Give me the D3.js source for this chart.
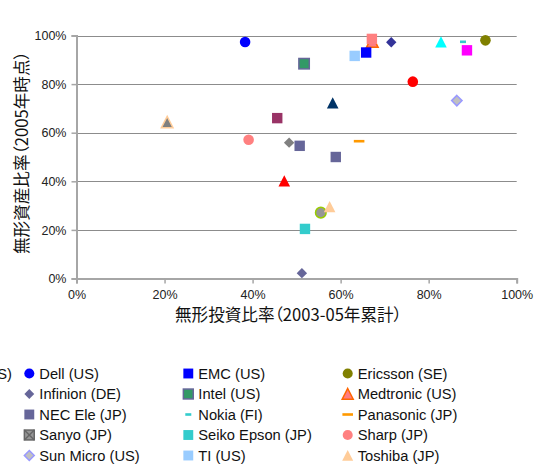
<!DOCTYPE html>
<html>
<head>
<meta charset="utf-8">
<script src="https://cdn.jsdelivr.net/npm/d3@7"></script>
<style>
  html, body { margin: 0; padding: 0; background: #fff; }
  svg { display: block; }
  .tick text { font-family: "Liberation Sans", Arial, sans-serif; font-size: 12.5px; fill: #222; }
  .legend text { font-family: "Liberation Sans", Arial, sans-serif; font-size: 14.7px; fill: #111; }
  .title { font-family: "Noto Sans CJK JP", sans-serif; font-size: 16.6px; fill: #111; font-feature-settings: "palt" 1; }
</style>
</head>
<body>
<svg id="chart" width="537" height="468"></svg>
<script>
// ---- data ----
const xTicks = [0, 0.2, 0.4, 0.6, 0.8, 1.0];
const yTicks = [0, 0.2, 0.4, 0.6, 0.8, 1.0];
const xTitle = "無形投資比率（2003-05年累計）";
const yTitle = "無形資産比率（2005年時点）";

// legend series (visible part of the legend, row-major order)
const seriesNames = [
  "Dell (US)", "EMC (US)", "Ericsson (SE)",
  "Infinion (DE)", "Intel (US)", "Medtronic (US)",
  "NEC Ele (JP)", "Nokia (FI)", "Panasonic (JP)",
  "Sanyo (JP)", "Seiko Epson (JP)", "Sharp (JP)",
  "Sun Micro (US)", "TI (US)", "Toshiba (JP)"
];
const seriesShapes = [
  "circle", "square", "circle",
  "diamond", "square", "triangle",
  "square", "dash", "dash",
  "xsquare", "square", "circle",
  "diamond", "square", "triangle"
];
const seriesFill = [
  "#0000ff", "#0000ff", "#808000",
  "#666699", "#339966", "#ff7c80",
  "#666699", "#33cccc", "#ff9900",
  "#969696", "#33cccc", "#ff8080",
  "#c0c0c0", "#99ccff", "#ffcc99"
];
const seriesStroke = [
  "none", "none", "none",
  "none", "#666699", "#ff6600",
  "none", "none", "none",
  "#666666", "none", "none",
  "#9999ff", "none", "none"
];
// x = intangible investment ratio, y = intangible asset ratio (null = not visible)
const seriesX = [0.383, 0.658, 0.929, 0.512, 0.517, 0.672, 0.507, 0.878, 0.642, null, 0.519, 0.391, 0.864, 0.632, 0.575];
const seriesY = [0.973, 0.930, 0.980, 0.022, 0.884, 0.974, 0.546, 0.974, 0.565, null, 0.204, 0.571, 0.732, 0.916, 0.295];

// points whose legend entries are cut off on the left of the reference
const otherShapes = ["diamond", "square", "triangle", "circle", "triangle", "square", "triangle", "diamond", "triangle", "circle", "square", "square"];
const otherFill   = ["#333399", "#993366", "#003366", "#ff0000", "#ff0000", "#ff00ff", "#00ffff", "#808080", "#808080", "#969696", "#ff8080", "#666699"];
const otherStroke = ["none", "none", "none", "none", "none", "none", "none", "none", "#ffcc99", "#99cc00", "none", "none"];
const otherX = [0.715, 0.456, 0.582, 0.764, 0.472, 0.887, 0.828, 0.483, 0.206, 0.555, 0.671, 0.589];
const otherY = [0.972, 0.660, 0.722, 0.810, 0.401, 0.939, 0.973, 0.559, 0.643, 0.271, 0.986, 0.500];

// tail of the first legend label, whose beginning lies outside the picture
const cutLabelTail = "(US)";

// ---- drawing ----
const svg = d3.select("#chart");
const x = d3.scaleLinear().domain([0, 1]).range([76.5, 516.7]);
const y = d3.scaleLinear().domain([0, 1]).range([278.5, 35.5]);
const fmt = d3.format(".0%");

// gridlines
svg.append("g").selectAll("line").data(yTicks.filter(d => d > 0)).join("line")
  .attr("x1", x(0)).attr("x2", x(1))
  .attr("y1", d => Math.round(y(d)) + 0.5).attr("y2", d => Math.round(y(d)) + 0.5)
  .attr("stroke", "#8c8c8c").attr("stroke-width", 1);

// axes
const yAxis = svg.append("g").attr("transform", `translate(${x(0)},0)`)
  .call(d3.axisLeft(y).tickValues(yTicks).tickFormat(fmt).tickSize(5).tickPadding(5));
const xAxis = svg.append("g").attr("transform", `translate(0,${y(0)})`)
  .call(d3.axisBottom(x).tickValues(xTicks).tickFormat(fmt).tickSize(5).tickPadding(7));
[xAxis, yAxis].forEach(g => {
  g.select(".domain").attr("stroke", "#a6a6a6").attr("stroke-width", 2);
  g.selectAll(".tick line").attr("stroke", "#a6a6a6").attr("stroke-width", 1.5);
});
yAxis.selectAll(".tick text").attr("dy", "0.34em");

// titles
svg.append("text").attr("class", "title")
  .attr("x", 175).attr("y", 320.5).text(xTitle);
svg.append("text").attr("class", "title")
  .attr("transform", "translate(27.5,254) rotate(-90)").text(yTitle);

// marker helper
function drawMarker(g, shape, fill, stroke, cx, cy, s) {
  s = s || 1;
  if (shape === "circle") {
    g.append("circle").attr("cx", cx).attr("cy", cy).attr("r", 5.3 * s)
      .attr("fill", fill).attr("stroke", stroke).attr("stroke-width", 1.5);
  } else if (shape === "square" || shape === "xsquare") {
    const h = 5.2 * s;
    g.append("rect").attr("x", cx - h).attr("y", cy - h).attr("width", 2 * h).attr("height", 2 * h)
      .attr("fill", fill).attr("stroke", stroke === "none" ? "none" : stroke).attr("stroke-width", 1.5);
    if (shape === "xsquare") {
      g.append("path").attr("d", `M${cx - h},${cy - h}L${cx + h},${cy + h}M${cx - h},${cy + h}L${cx + h},${cy - h}`)
        .attr("stroke", stroke).attr("stroke-width", 1.5);
    }
  } else if (shape === "diamond") {
    const h = 5.2 * s;
    g.append("path").attr("d", `M${cx},${cy - h}L${cx + h},${cy}L${cx},${cy + h}L${cx - h},${cy}Z`)
      .attr("fill", fill).attr("stroke", stroke).attr("stroke-width", 1.5);
  } else if (shape === "triangle") {
    const h = 5.8 * s;
    g.append("path").attr("d", `M${cx},${cy - h}L${cx + h},${cy + h * 0.95}L${cx - h},${cy + h * 0.95}Z`)
      .attr("fill", fill).attr("stroke", stroke).attr("stroke-width", 1.5);
  } else if (shape === "dash") {
    const w = fill === "#33cccc" ? 6 : 10.6;
    g.append("rect").attr("x", cx - w / 2).attr("y", cy - 1.3)
      .attr("width", w).attr("height", 2.6).attr("fill", fill);
  }
}

// points: Medtronic lies under the pink square, so draw it first
const pts = svg.append("g");
const under = [5];
under.forEach(i => drawMarker(pts, seriesShapes[i], seriesFill[i], seriesStroke[i], x(seriesX[i]), y(seriesY[i])));
otherX.forEach((v, i) => drawMarker(pts, otherShapes[i], otherFill[i], otherStroke[i], x(v), y(otherY[i])));
seriesX.forEach((v, i) => {
  if (v === null || under.includes(i)) return;
  drawMarker(pts, seriesShapes[i], seriesFill[i], seriesStroke[i], x(v), y(seriesY[i]));
});

// legend
const leg = svg.append("g").attr("class", "legend");
const colText = [39.3, 198.3, 357.7];
const rowY = [373.5, 394, 414.5, 435, 455.5];
seriesNames.forEach((name, i) => {
  const c = i % 3, r = Math.floor(i / 3);
  drawMarker(leg, seriesShapes[i], seriesFill[i], seriesStroke[i], colText[c] - 10, rowY[r], 0.95);
  leg.append("text").attr("x", colText[c]).attr("y", rowY[r]).attr("dy", "0.35em").text(name);
});
leg.append("text").attr("x", 12).attr("y", rowY[0]).attr("dy", "0.35em")
  .attr("text-anchor", "end").text(cutLabelTail);
</script>
</body>
</html>
